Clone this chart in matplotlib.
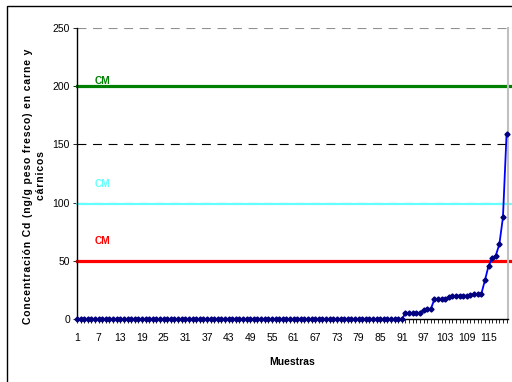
import numpy as np
import matplotlib
matplotlib.use('Agg')
import matplotlib.pyplot as plt
from matplotlib.patches import Rectangle

plt.rcParams['font.family'] = ['Liberation Sans', 'DejaVu Sans']

# Cd en muestras de carne y cárnicos, ordenadas de menor a mayor
ceros = [0.0] * 91
cd_muestras = ceros + [
    5.0, 5.0, 5.0, 5.0, 5.5,
    8.0, 8.5, 8.5,
    16.9, 16.9, 17.5, 17.5, 18.9, 19.5, 20.1, 20.1, 20.1, 20.1, 20.3, 21.2, 21.5, 21.5,
    33.2, 45.5, 52.0, 54.4, 64.2, 87.4, 159.0,
]
muestras = np.arange(1, len(cd_muestras) + 1)

# contenidos máximos (CM)
cm_valores = [200, 99, 50]
cm_colores = ['#008000', '#66ffff', '#ff0000']
cm_grosor = [2.3, 1.6, 2.3]
cm_texto_y = [204.5, 116, 67]

y_ticks = [0, 50, 100, 150, 200, 250]
x_etiquetas = list(range(1, 116, 6))

titulo_y1 = 'Concentración Cd (ng/g peso fresco) en carne y'
titulo_y2 = 'cárnicos'


def espaciado(s):
    # letras algo separadas, como en el rótulo original
    return '\u200a'.join(s)


fig = plt.figure(figsize=(5.12, 3.82), dpi=100)
ax = fig.add_axes([0.1504, 0.1649, 0.8418, 0.7618])

# marco exterior del gráfico
fig.patches.append(Rectangle((7 / 512, -0.05), 1.2, 1.0 - 6 / 382 + 0.05,
                             transform=fig.transFigure, fill=False,
                             edgecolor='black', linewidth=1.0))

# líneas de división
for v, c in [(150, 'black'), (250, '#909090'), (100, '#909090')]:
    ax.axhline(v, color=c, linewidth=0.8, linestyle=(0, (8, 6)), zorder=1)

for v, c, lw, ty in zip(cm_valores, cm_colores, cm_grosor, cm_texto_y):
    ax.axhline(v, xmin=0, xmax=1.01, color=c, linewidth=lw, clip_on=False, zorder=2)
    ax.text(8, ty, 'CM', color=c, fontsize=7.3, fontweight='bold',
            ha='center', va='center')

ax.plot(muestras, cd_muestras, color='#0000ff', linewidth=1.3,
        marker='D', markersize=2.6, markerfacecolor='#000080',
        markeredgecolor='#000080', zorder=3, clip_on=False)

ax.set_xlim(1, 120.4)
ax.set_ylim(0, 250)
ax.set_yticks(y_ticks)
ax.set_xticks(muestras)
ax.set_xticklabels([str(m) if m in x_etiquetas else '' for m in muestras])
ax.tick_params(axis='both', direction='out', length=3, width=0.6,
               labelsize=7.5, colors='black', pad=2)
ax.tick_params(axis='x', pad=7)

ax.spines['top'].set_visible(False)
ax.spines['right'].set_color('#c0c0c0')
ax.spines['right'].set_linewidth(1.5)
ax.spines['left'].set_linewidth(1.0)
ax.spines['bottom'].set_linewidth(1.0)

ax.set_xlabel('Muestras', fontsize=7.5, fontweight='bold', labelpad=10)

fig.text(28 / 512, 1 - 186 / 382, espaciado(titulo_y1), rotation=90,
         fontsize=7.5, fontweight='bold', ha='center', va='center')
fig.text(41 / 512, 1 - 176 / 382, espaciado(titulo_y2), rotation=90,
         fontsize=7.5, fontweight='bold', ha='center', va='center')

fig.savefig('out.png', dpi=100)
